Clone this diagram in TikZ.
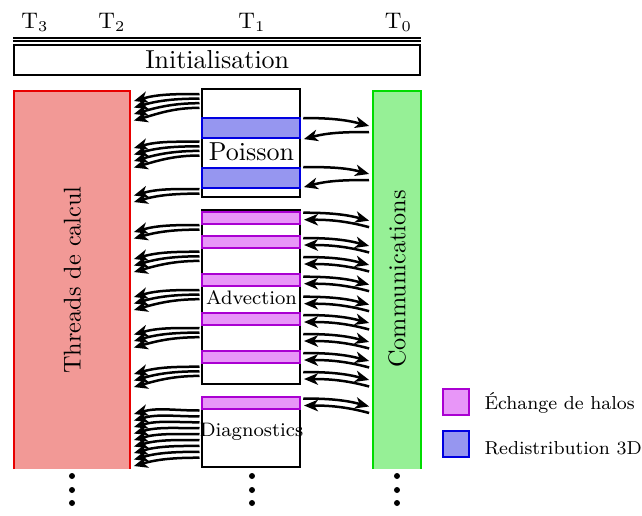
\documentclass[tikz,border=0pt]{standalone}
\usetikzlibrary{arrows.meta,fit}
\definecolor{redfill}{RGB}{242,153,150}
\definecolor{redline}{RGB}{232,0,0}
\definecolor{greenfill}{RGB}{150,240,150}
\definecolor{greenline}{RGB}{0,220,0}
\definecolor{bluefill}{RGB}{150,150,240}
\definecolor{blueline}{RGB}{0,0,225}
\definecolor{magfill}{RGB}{232,150,248}
\definecolor{magline}{RGB}{170,0,210}
\begin{document}
\begin{tikzpicture}[x=0.4pt,y=0.4pt,
  area/.style={inner sep=0pt,outer sep=0pt},
  boxline/.style={line width=0.8pt},
  arr/.style={line width=1pt,-{Stealth[length=5.6pt,width=4.6pt,inset=1.6pt]}},
  lbl/.style={inner sep=0pt},
  tlbl/.style={lbl,anchor=base,font=\fontsize{8.8}{10}\selectfont},
  bigtxt/.style={lbl,font=\fontsize{10.4}{12}\selectfont},
  coltxt/.style={lbl,rotate=90,font=\fontsize{9.7}{11}\selectfont},
  smalltxt/.style={lbl,font=\fontsize{7.8}{9}\selectfont},
  legtxt/.style={lbl,anchor=base west,font=\fontsize{7.5}{9}\selectfont},
  blueband/.style={area,draw=blueline,fill=bluefill,boxline},
  magband/.style={area,draw=magline,fill=magfill,boxline},
  midbox/.style={area,draw=black,fill=white,boxline}]
\useasboundingbox (0,0) rectangle (642,-515);

% header
\node[tlbl] (t3) at (35,-28.5) {$\mathrm{T}_3$};
\node[tlbl] (t2) at (112,-28.5) {$\mathrm{T}_2$};
\node[tlbl] (t1) at (252,-28.5) {$\mathrm{T}_1$};
\node[tlbl] (t0) at (398.5,-28.5) {$\mathrm{T}_0$};
\draw[line width=0.7pt] (13,-37.7) -- (421.5,-37.7);
\draw[line width=0.7pt] (13,-41.3) -- (421.5,-41.3);

% initialisation
\node[midbox,fit={(14.5,-45)(420,-75)}] (init) {};
\node[bigtxt] (initlbl) at (init.center) {Initialisation};

% compute threads
\node[area,fill=redfill,fit={(14,-91)(130.5,-469)}] (thr) {};
\draw[redline,boxline] (thr.south west) -- (thr.north west) -- (thr.north east) -- (thr.south east);
\node[coltxt] (thrlbl) at (thr.center) {Threads de calcul};

% communications
\node[area,fill=greenfill,fit={(373,-91)(421.5,-469)}] (com) {};
\draw[greenline,boxline] (com.south west) -- (com.north west) -- (com.north east) -- (com.south east);
\node[coltxt] (comlbl) at (397,-279) {Communications};

% Poisson
\node[midbox,fit={(202.5,-89)(300.5,-197)}] (poi) {};
\node[blueband,fit={(202.5,-118)(300.5,-137.5)}] (pb1) {};
\node[blueband,fit={(202.5,-168)(300.5,-188)}] (pb2) {};
\node[bigtxt] (poilbl) at (251.5,-152) {Poisson};

% Advection
\node[midbox,fit={(202.5,-210)(300.5,-384)}] (adv) {};
\node[magband,fit={(202.5,-212)(300.5,-224)}] (ab1) {};
\node[magband,fit={(202.5,-236)(300.5,-248)}] (ab2) {};
\node[magband,fit={(202.5,-274)(300.5,-286)}] (ab3) {};
\node[magband,fit={(202.5,-313)(300.5,-325)}] (ab4) {};
\node[magband,fit={(202.5,-351)(300.5,-363)}] (ab5) {};
\node[smalltxt] (advlbl) at (251.5,-298) {Advection};

% Diagnostics
\node[midbox,fit={(202.5,-397)(300.5,-467)}] (dia) {};
\node[magband,fit={(202.5,-397)(300.5,-409)}] (db1) {};
\node[smalltxt] (dialbl) at (251.5,-432) {Diagnostics};

% dots
\foreach \x in {72,252,397}{
  \foreach \y in {476,490,503}{
    \fill (\x,-\y) circle (3);
  }
}

% legend
\node[magband,fit={(443.5,-388.5)(469.5,-414.5)}] (lg1) {};
\node[legtxt] (lg1t) at (484,-409) {Échange de halos};
\node[blueband,fit={(443.5,-431)(469.5,-457)}] (lg2) {};
\node[legtxt] (lg2t) at (484,-454) {Redistribution 3D};

% arrows to compute threads
\foreach \s/\e/\b in {
  94/102/poi, 98.6/108.5/poi, 103.2/115/poi, 107.8/121.5/poi,
  141.7/149/poi, 146.3/155.5/poi, 150.9/162/poi, 155.5/168.5/poi,
  189/196.5/poi, 193.6/203/poi,
  225/233/adv, 229.6/239.5/adv,
  251.7/260/adv, 256.3/266.5/adv, 260.9/273/adv,
  290/298/adv, 294.6/304.5/adv, 299.2/311/adv,
  328/335.5/adv, 332.6/342/adv, 337.2/348.5/adv,
  366.7/375/adv, 371.3/381.5/adv, 375.9/388/adv,
  410.5/415/dia, 416.4/421.5/dia, 422.3/428/dia, 428.2/434.5/dia, 434.1/441/dia,
  440/447.5/dia, 445.9/454/dia, 451.8/460.5/dia, 457.7/467/dia}
{
  \draw[arr,shorten <=1.2pt,shorten >=1.4pt] (\b.west |- 0,-\s) to[out=180,in=16] (thr.east |- 0,-\e);
}

% Poisson exchanges
\draw[arr,shorten <=1.1pt,shorten >=1.6pt] (poi.east |- 0,-118) to[out=0,in=165] (com.west |- 0,-127);
\draw[arr,shorten <=1.6pt,shorten >=1.4pt] (com.west |- 0,-132) to[out=180,in=15] (poi.east |- 0,-140);
\draw[arr,shorten <=1.1pt,shorten >=1.6pt] (poi.east |- 0,-167) to[out=0,in=165] (com.west |- 0,-175);
\draw[arr,shorten <=1.6pt,shorten >=1.4pt] (com.west |- 0,-180) to[out=180,in=15] (poi.east |- 0,-188);

% halo exchanges
\foreach \y/\b in {212.7/adv, 238/adv, 257/adv, 276.7/adv, 296.7/adv, 315/adv, 334/adv, 353/adv, 372/adv, 398.5/dia}
{
  \pgfmathsetmacro\ya{\y+9}
  \pgfmathsetmacro\yb{\y+15.5}
  \pgfmathsetmacro\yc{\y+7}
  \draw[arr,shorten <=1.1pt,shorten >=1.6pt] (\b.east |- 0,-\y) to[out=0,in=165] (com.west |- 0,-\ya);
  \draw[arr,shorten <=1.6pt,shorten >=1.4pt] (com.west |- 0,-\yb) to[out=165,in=0] (\b.east |- 0,-\yc);
}
\end{tikzpicture}
\end{document}
